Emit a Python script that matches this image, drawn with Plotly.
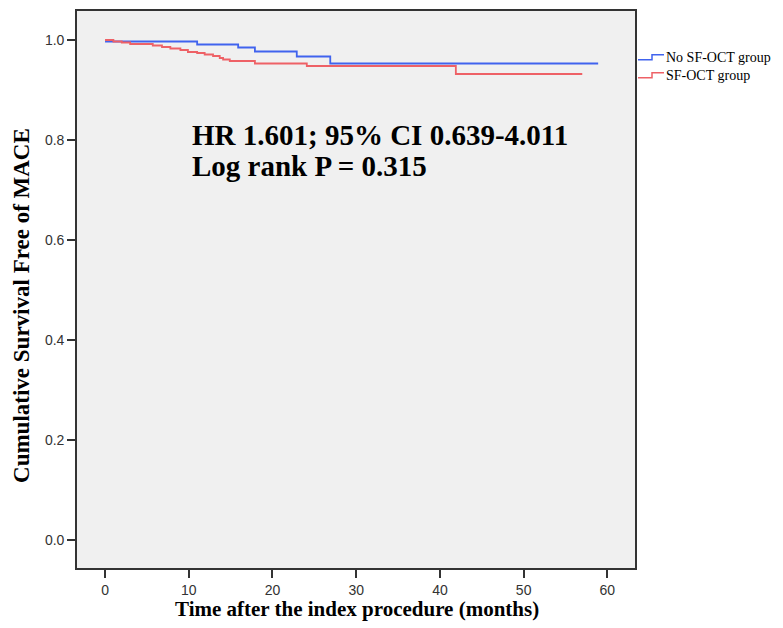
import plotly.graph_objects as go

# ---- data ----
blue_name = "No SF-OCT group"
blue_t = [0, 11.0, 15.9, 17.9, 22.9, 26.9, 58.9]
blue_s = [0.997, 0.991, 0.985, 0.977, 0.967, 0.953, 0.953]

red_name = "SF-OCT group"
red_t = [0, 1.0, 2.0, 3.0, 5.7, 6.8, 7.8, 9.0, 9.9, 11.0, 11.9, 12.9, 13.7,
         14.1, 14.9, 17.9, 24.1, 41.9, 57.0]
red_s = [1.0, 0.997, 0.995, 0.992, 0.989, 0.986, 0.983, 0.980, 0.976, 0.974,
         0.971, 0.968, 0.964, 0.961, 0.958, 0.953, 0.948, 0.932, 0.932]

x_ticks = [0, 10, 20, 30, 40, 50, 60]
y_ticks = [0.0, 0.2, 0.4, 0.6, 0.8, 1.0]

stat_line1 = "HR 1.601; 95% CI 0.639-4.011"
stat_line2 = "Log rank P = 0.315"
x_title = "Time after the index procedure (months)"
y_title = "Cumulative Survival Free of MACE"

BLUE = "#4063ee"
RED = "#ee6166"
SERIF = "Liberation Serif, Times New Roman, serif"
SANS = "Liberation Sans, Arial, sans-serif"

# page offset of the html body (8px default margin)
OFF = 8
W, H = 783 - OFF, 628 - OFF
L, R, T, B = 77, 635, 9, 568  # plot area in reference pixels


def px(xp):
    return (xp - L) / (R - L)


def py(yp):
    return (B - yp) / (B - T)


fig = go.Figure()
fig.add_trace(go.Scatter(x=blue_t, y=blue_s, mode="lines", name=blue_name,
                         line=dict(color=BLUE, width=1.8, shape="hv"),
                         showlegend=False))
fig.add_trace(go.Scatter(x=red_t, y=red_s, mode="lines", name=red_name,
                         line=dict(color=RED, width=1.8, shape="hv"),
                         showlegend=False))

# custom legend (step-shaped symbols like SPSS)
shapes = []
annotations = []
for color, name, yc in [(BLUE, blue_name, 55.5), (RED, red_name, 73.5)]:
    path = "M {} {} L {} {} L {} {} L {} {}".format(
        px(638), py(yc + 2.5), px(652), py(yc + 2.5),
        px(652), py(yc - 2.5), px(664), py(yc - 2.5))
    shapes.append(dict(type="path", xref="paper", yref="paper", path=path,
                       line=dict(color=color, width=1.5)))
    annotations.append(dict(xref="paper", yref="paper", x=px(664), y=py(yc),
                            xanchor="left", yanchor="middle", text=name,
                            showarrow=False,
                            font=dict(family=SERIF, size=14, color="black")))

annotations += [
    dict(xref="paper", yref="paper", x=px(190), y=py(133), xanchor="left",
         yanchor="middle", text="<b>" + stat_line1 + "</b>", showarrow=False,
         font=dict(family=SERIF, size=29, color="black")),
    dict(xref="paper", yref="paper", x=px(190), y=py(165), xanchor="left",
         yanchor="middle", text="<b>" + stat_line2 + "</b>", showarrow=False,
         font=dict(family=SERIF, size=29, color="black")),
    dict(xref="paper", yref="paper", x=px(356.5), y=py(609), xanchor="center",
         yanchor="middle", text="<b>" + x_title + "</b>", showarrow=False,
         font=dict(family=SERIF, size=21, color="black")),
    dict(xref="paper", yref="paper", x=px(22), y=py(305), xanchor="center",
         yanchor="middle", text="<b>" + y_title + "</b>", showarrow=False,
         textangle=-90, font=dict(family=SERIF, size=23, color="black")),
]

axis_common = dict(showgrid=False, zeroline=False, showline=True,
                   linecolor="#333333", linewidth=1.6, mirror=True,
                   ticks="outside", ticklen=8, tickwidth=1.6,
                   tickcolor="#333333",
                   tickfont=dict(family=SANS, size=14, color="#333333"))

fig.update_layout(
    width=W, height=H,
    margin=dict(l=L - OFF, r=783 - R, t=T - OFF, b=628 - B, pad=0),
    paper_bgcolor="white", plot_bgcolor="#f0f0f0",
    xaxis=dict(range=[-3.35, 63.3], tickvals=x_ticks, **axis_common),
    yaxis=dict(range=[-0.056, 1.058], tickvals=y_ticks, tickformat=".1f",
               **axis_common),
    shapes=shapes, annotations=annotations, showlegend=False,
)

fig.write_html("out.html")
